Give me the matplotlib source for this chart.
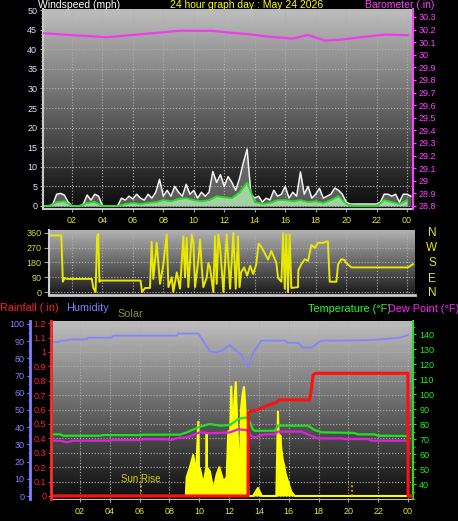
import numpy as np
import matplotlib.pyplot as plt
from matplotlib.ticker import MultipleLocator

plt.rcParams['font.family'] = ['Liberation Sans', 'DejaVu Sans']

W, H = 458, 521

# ---- windspeed (mph), every 15 min ----
wind_hours = np.arange(0, 24.5, 0.25)
wind_gust = [0, 0, 0, 0.5, 3, 3.2, 2.8, 1, 0, 0, 0, 0.5, 2.8, 1.5, 3, 2.5,
             0, 0, 0, 0, 0, 2, 1.5, 2.5, 1.8, 3, 2, 1.5, 3, 2, 3.5, 6.8,
             2.5, 4, 2.5, 5, 3.5, 2.5, 5.5, 3, 4, 2, 3.5, 2.5, 3.5, 8.8, 6, 8,
             5, 7.5, 6, 4, 7, 11, 14.5, 3, 2, 2.5, 1, 2, 1.5, 4, 2.5, 3,
             5, 2, 3.5, 2.5, 8.7, 3, 5, 2, 3, 4.5, 2, 2.5, 3, 4.6, 4, 3,
             1, 0.5, 0.5, 0.5, 0.5, 0.5, 0.5, 0.5, 0.5, 1, 3, 3, 2.5, 3, 1, 3,
             3, 2.5]
avg_hours = np.arange(0, 24.5, 0.5)
wind_avg = [0, 0, 1, 1.2, 0, 0, 0.8, 1, 0, 0, 0, 0.5, 0.8, 0.5, 0.8, 1,
            1.5, 1.2, 1.8, 2, 1.5, 1.2, 1.5, 2.5, 2.2, 2, 3.5, 6, 1, 0.5, 0.8, 1.5,
            1.5, 1.2, 1.5, 1, 1.2, 0.8, 1.5, 2.5, 0.5, 0, 0, 0, 0, 1.5, 1, 0.5,
            1.5]

# ---- barometer (in) ----
baro_hours = [0.1, 2.07, 4.3, 6.0, 7.98, 9.09, 10.4, 11.2, 12.38, 13.56,
              14.87, 16.51, 17.5, 18.61, 19.66, 20.97, 22.55, 24.06]
baro_in = [30.171, 30.155, 30.139, 30.157, 30.178, 30.191, 30.19, 30.19, 30.175,
           30.163, 30.144, 30.128, 30.157, 30.112, 30.12, 30.139, 30.16, 30.155]
baro_ticks = [28.8, 28.9, 29.0, 29.1, 29.2, 29.3, 29.4, 29.5, 29.6, 29.7,
              29.8, 29.9, 30.0, 30.1, 30.2, 30.3]

# ---- wind direction (deg) ----
dir_hours = [0.5, 1.3, 1.4, 1.5, 1.7, 3.3, 3.4, 3.55, 3.65, 3.72, 3.8, 3.9, 4.0,
             6.5, 6.6, 6.8, 7.0, 7.12, 7.23, 7.34, 7.56, 7.78, 8.0, 8.22, 8.33,
             8.55, 8.65, 8.88, 9.09, 9.31, 9.42, 9.53, 9.64, 9.86, 9.97, 10.08,
             10.3, 10.41, 10.52, 10.62, 10.85, 10.95, 11.06, 11.28, 11.39, 11.5,
             11.61, 11.72, 11.94, 12.16, 12.38, 12.59, 12.75, 12.9, 13.0, 13.1,
             13.3, 13.5, 13.7, 13.9, 14.1, 14.25, 14.43, 14.65, 14.87, 15.09,
             15.42, 15.53, 15.75, 15.86, 15.97, 16.07, 16.18, 16.29, 16.4, 16.84,
             16.86, 17.06, 17.28, 17.5, 17.72, 17.94, 18.16, 18.49, 18.8, 18.92,
             19.36, 19.47, 19.69, 19.9, 20.0, 20.35, 24.06, 24.39]
dir_deg = [345, 345, 63, 85, 80, 80, 25, 0, 340, 355, 63, 70, 70,
           70, 0, 25, 25, 25, 307, 80, 300, 50, 170, 350, 30,
           90, 0, 120, 20, 340, 90, 330, 30, 350, 300, 30,
           200, 320, 150, 30, 90, 177, 150, 0, 340, 50,
           350, 280, 0, 350, 20, 360, 20, 340, 30, 120,
           150, 100, 160, 110, 170, 295, 276, 238, 198, 250,
           177, 85, 63, 360, 20, 350, 0, 350, 25, 30,
           134, 170, 200, 190, 287, 270, 300, 300, 310, 63,
           63, 170, 200, 195, 177, 150, 150, 170]
dir_ticks = [0, 90, 180, 270, 360]
compass = ['N', 'W', 'S', 'E', 'N']

# ---- humidity (%), temperature / dew point (F), rain (in), solar (W/m2) ----
hum_hours = [0.2, 0.6, 0.67, 1.12, 1.34, 2.46, 2.57, 4.13, 4.24, 8.49,
             8.6, 9.94, 10.28, 10.72, 11.17, 11.5, 12.06, 12.38, 12.82, 13.16,
             13.27, 13.6, 14.16, 15.73, 15.95, 16.62, 16.96, 17.52, 18.18, 19.75,
             21.54, 22.65, 23.55, 23.99]
hum_pct = [89.4, 89.4, 90.3, 90.3, 91, 91, 92, 92, 93.2, 93.2,
           94.4, 94.4, 90, 84, 83.5, 84.5, 87.8, 85, 82, 77,
           75.2, 83, 90.3, 90.3, 89, 89, 86.2, 86.2, 90.3, 90.3,
           90.7, 91.3, 92.2, 93.6]

temp_hours = [0.2, 0.67, 0.89, 3.35, 3.57, 6.03, 6.25, 8.71, 9.16, 10.05,
              10.72, 11.39, 12.06, 12.6, 13.16, 13.38, 13.6, 13.72, 15.06, 15.28,
              17.29, 17.74, 18.18, 20.42, 20.64, 21.76, 21.98, 23.99]
temp_f = [73.1, 73.1, 72.2, 72.2, 72.6, 72.6, 72.9, 72.9, 74.4, 78.2,
          80, 78.9, 79.3, 83.3, 84.4, 81.5, 76.4, 75.5, 75.5, 78.9,
          78.9, 76, 74.5, 74, 73.1, 73.1, 72.2, 72]

dew_hours = [0.2, 0.67, 1.12, 1.56, 4.02, 4.24, 6.03, 6.25, 7.82, 8.04,
             8.71, 9.16, 10.05, 10.72, 12.06, 12.6, 13.16, 13.5, 13.72, 14.16,
             14.39, 15.06, 15.28, 16.85, 17.29, 17.96, 19.52, 19.75, 21.31, 21.54,
             23.99]
dew_f = [68.9, 68.9, 67.8, 68.9, 68.9, 69.3, 69.3, 69.8, 69.8, 69.3,
         70.9, 71, 74.5, 73.8, 74.4, 76.5, 76, 72, 71.1, 72.5,
         73.1, 73.1, 74.9, 74.9, 73, 70.4, 70.4, 70, 70, 68.9,
         68.9]

rain_hours = [0.2, 13.27, 13.29, 13.49, 13.94, 14.61, 15.17, 15.35, 17.4, 17.52,
              17.63, 17.8, 23.99, 24.0, 24.33]
rain_in = [0, 0, 0.576, 0.59, 0.6, 0.63, 0.65, 0.667, 0.667, 0.74,
           0.84, 0.852, 0.852, 0, 0]

solar_hours = [0.2, 9.1, 9.16, 9.38, 9.6, 9.79, 9.94, 9.98, 10.05, 10.28,
               10.48, 10.5, 10.52, 10.72, 10.95, 11.17, 11.35, 11.62, 11.84, 11.95,
               12.05, 12.15, 12.25, 12.35, 12.45, 12.55, 12.65, 12.73, 12.8, 12.9,
               13.0, 13.1, 13.2, 13.3, 13.6, 13.94, 14.2, 15.17, 15.28, 15.35,
               15.44, 15.5, 15.6, 15.7, 15.8, 15.95, 16.17, 16.4, 24.33]
solar_wm2 = [0, 0, 130, 200, 285, 150, 516, 200, 190, 80,
             200, 437, 200, 169, 40, 150, 200, 100, 130, 450,
             300, 760, 400, 650, 790, 500, 250, 90, 600, 700,
             757, 600, 300, 0, 0, 55, 0, 0, 585, 300,
             420, 330, 250, 210, 150, 100, 30, 0, 0]
sun_rise, sun_set = 6.1, 20.24

rain_ticks = [0, 0.1, 0.2, 0.3, 0.4, 0.5, 0.6, 0.7, 0.8, 0.9, 1.0, 1.1, 1.2]
hum_ticks = [0, 10, 20, 30, 40, 50, 60, 70, 80, 90, 100]
temp_ticks = [40, 50, 60, 70, 80, 90, 100, 110, 120, 130, 140]

hour_ticks = [2, 4, 6, 8, 10, 12, 14, 16, 18, 20, 22, 24]
hour_labels = ['02', '04', '06', '08', '10', '12', '14', '16', '18', '20', '22', '00']

YEL = '#e4e430'
GRID = dict(color='#b0b0b0', linestyle=':', linewidth=0.8)

fig = plt.figure(figsize=(W / 100, H / 100), dpi=100, facecolor='black')


def rect(x0, y0, x1, y1):
    return [x0 / W, 1 - y1 / H, (x1 - x0) / W, (y1 - y0) / H]


def background(r, top, bottom):
    bg = fig.add_axes(r, zorder=0)
    grad = np.linspace(top, bottom, 200)[:, None]
    bg.imshow(grad, cmap='gray', vmin=0, vmax=255, aspect='auto',
              extent=[0, 1, 0, 1])
    bg.set_xlim(0, 1)
    bg.set_ylim(0, 1)
    bg.axis('off')


def hide_spines(a, keep=()):
    for k, s in a.spines.items():
        s.set_visible(k in keep)


def ftext(x, y, s, **kw):
    fig.text(x / W, 1 - y / H, s, va='center', **kw)


# ================= windspeed / barometer =================
r_top = rect(43, 9, 413, 209)
background(r_top, 190, 10)
ax = fig.add_axes(r_top, zorder=1)
ax.patch.set_visible(False)
ax.set_xlim(0.1, 24.39)
ax.set_ylim(-0.77, 50.26)
ax.fill_between(wind_hours, 0, wind_gust, color='#9a9a9a', alpha=0.55, lw=0)
ax.plot(wind_hours, wind_gust, color='#f4f4f4', lw=1.1)
ax.fill_between(avg_hours, 0, wind_avg, color='#b8f0b8', alpha=0.8, lw=0)
ax.plot(avg_hours, wind_avg, color='#22e022', lw=1.3)
ax.yaxis.set_major_locator(MultipleLocator(5))
ax.yaxis.set_minor_locator(MultipleLocator(1))
ax.set_xticks(hour_ticks, hour_labels)
ax.tick_params(axis='y', which='both', color='#a0a0a0', labelcolor='#d8e4ff',
               labelsize=6.5, length=2.2, width=0.8, pad=2)
ax.tick_params(axis='y', which='minor', length=1.2)
ax.tick_params(axis='x', color='#a0a0a0', labelcolor=YEL, labelsize=6.5,
               length=2, pad=3)
ax.grid(True, **GRID)
hide_spines(ax, ('left', 'bottom'))
ax.spines['left'].set_color('#c8c8c8')
ax.spines['left'].set_linewidth(1.5)
ax.spines['bottom'].set_color('#c8c8c8')
ax.spines['bottom'].set_linewidth(1.5)

axb = ax.twinx()
axb.set_zorder(2)
axb.set_ylim(28.776, 30.363)
axb.plot(baro_hours, baro_in, color='#ee3cee', lw=1.6)
axb.set_yticks(baro_ticks, [f'{v:g}' for v in baro_ticks])
axb.tick_params(axis='y', color='#ff40ff', labelcolor='#ff40ff', labelsize=6.5,
                length=2.2, width=1, pad=2)
hide_spines(axb, ('right',))
axb.spines['right'].set_color('#ff40ff')
axb.spines['right'].set_linestyle((0, (1.5, 1)))
axb.spines['right'].set_linewidth(1.5)

ftext(38, 5.5, 'Windspeed (mph)', color='white', fontsize=7.5)
ftext(170, 5.5, '24 hour graph day : May 24 2026', color='#ffff00', fontsize=7.5)
ftext(365, 5.5, 'Barometer (.in)', color='#ff40ff', fontsize=7.5)

# ================= wind direction =================
r_mid = rect(49, 230, 415, 295)
background(r_mid, 180, 25)
axd = fig.add_axes(r_mid, zorder=1)
axd.patch.set_visible(False)
axd.set_xlim(0.49, 24.52)
axd.set_ylim(-18, 378)
axd.plot(dir_hours, dir_deg, color='#e8e800', lw=1.4)
axd.set_yticks(dir_ticks)
axd.set_xticks(hour_ticks)
axd.tick_params(axis='x', length=0, labelbottom=False)
axd.tick_params(axis='y', color='#a0a0a0', labelcolor='#d8d840', labelsize=6.5,
                length=3.5, pad=2)
axd.grid(True, **GRID)
hide_spines(axd, ('left', 'bottom'))
axd.spines['left'].set_color('#d0d0d0')
axd.spines['left'].set_linewidth(1.5)
axd.spines['bottom'].set_color('#c8c8c8')
axd.spines['bottom'].set_linewidth(2)
for lab, yp in zip(compass, [233, 248, 263, 279, 293]):
    ftext(432, yp, lab, color='#e8e800', fontsize=8.5, ha='center')

# ================= rain / humidity / solar / temperature =================
r_bot = rect(53, 321, 413, 499)
background(r_bot, 190, 12)
ax3 = fig.add_axes(r_bot, zorder=1)
ax3.patch.set_visible(False)
ax3.set_xlim(0.2, 24.33)
ax3.set_ylim(-0.021, 1.215)
ax3.set_yticks(rain_ticks, [f'{v:g}' for v in rain_ticks])
ax3.set_xticks(hour_ticks, hour_labels)
ax3.tick_params(axis='y', color='#ff2020', labelcolor='#ff2020', labelsize=6.5,
                length=2, pad=1.5)
ax3.tick_params(axis='x', color='#a0a0a0', labelcolor=YEL, labelsize=6.5,
                length=2, pad=3.5)
hide_spines(ax3, ('left', 'bottom'))
ax3.spines['left'].set_position(('outward', 1.4))
ax3.spines['left'].set_color('#ff3030')
ax3.spines['left'].set_linewidth(2)
ax3.spines['left'].set_linestyle((0, (2, 1)))
ax3.spines['bottom'].set_color('#c0c0c0')

ax_s = ax3.twinx()
ax_s.set_zorder(2)
ax_s.set_ylim(-21, 1215)
ax_s.fill_between(solar_hours, 0, solar_wm2, color='#ffff00', lw=0)
ax_s.plot(solar_hours, solar_wm2, color='#ffff00', lw=1.5)
for h in (sun_rise, sun_set):
    ax_s.vlines(h, 0, 100, color='#e0d000', linestyle=':', lw=1.2)
ax_s.set_yticks([])
hide_spines(ax_s)
ax_s.text(sun_rise, 85, 'Sun Rise', color='#d0d000', fontsize=7, ha='center',
          va='bottom')

ax_h = ax3.twinx()
ax_h.set_zorder(3)
ax_h.set_ylim(-1.74, 101.7)
ax_h.yaxis.tick_left()
ax_h.plot(hum_hours, hum_pct, color='#8484ff', lw=1.3)
ax_h.set_yticks(hum_ticks)
ax_h.yaxis.set_minor_locator(MultipleLocator(5))
ax_h.tick_params(axis='y', which='both', color='#8080ff', labelcolor='#8080ff',
                 labelsize=6.5, length=2.5, pad=1.5)
ax_h.tick_params(axis='y', which='minor', length=1.2)
hide_spines(ax_h, ('left',))
ax_h.spines['left'].set_position(('outward', 16.6))
ax_h.spines['left'].set_color('#8080ff')
ax_h.spines['left'].set_linewidth(2)

ax_t = ax3.twinx()
ax_t.set_zorder(4)
ax_t.set_ylim(30, 148.7)
ax_t.plot(temp_hours, temp_f, color='#22e022', lw=1.6)
ax_t.plot(dew_hours, dew_f, color='#e020e0', lw=1.6)
ax_t.set_yticks(temp_ticks)
ax_t.yaxis.set_minor_locator(MultipleLocator(5))
ax_t.tick_params(axis='y', which='both', color='#20e020', labelcolor='#20f020',
                 labelsize=6.5, length=2.5, pad=2)
ax_t.tick_params(axis='y', which='minor', length=1.2)
hide_spines(ax_t, ('right',))
ax_t.spines['right'].set_color('#20e020')
ax_t.spines['right'].set_linewidth(1.5)

ax_r = ax3.twinx()
ax_r.set_zorder(5)
ax_r.set_ylim(-0.021, 1.215)
ax_r.plot(rain_hours, rain_in, color='#ff1010', lw=2.2)
ax_r.set_yticks([])
hide_spines(ax_r)

ax3.grid(True, **GRID)

ftext(0, 308, 'Rainfall (.in)', color='#ff2020', fontsize=7.8)
ftext(66, 308, 'Humidity', color='#8080ff', fontsize=7.8)
ftext(117, 314, 'Solar', color='#909028', fontsize=7.8)
ftext(308, 309, 'Temperature (\u00b0F)', color='#20ff20', fontsize=7.8)
ftext(388, 309, 'Dew Point (\u00b0F)', color='#ff20ff', fontsize=7.8)

fig.savefig('out.png', dpi=100, facecolor='black')
